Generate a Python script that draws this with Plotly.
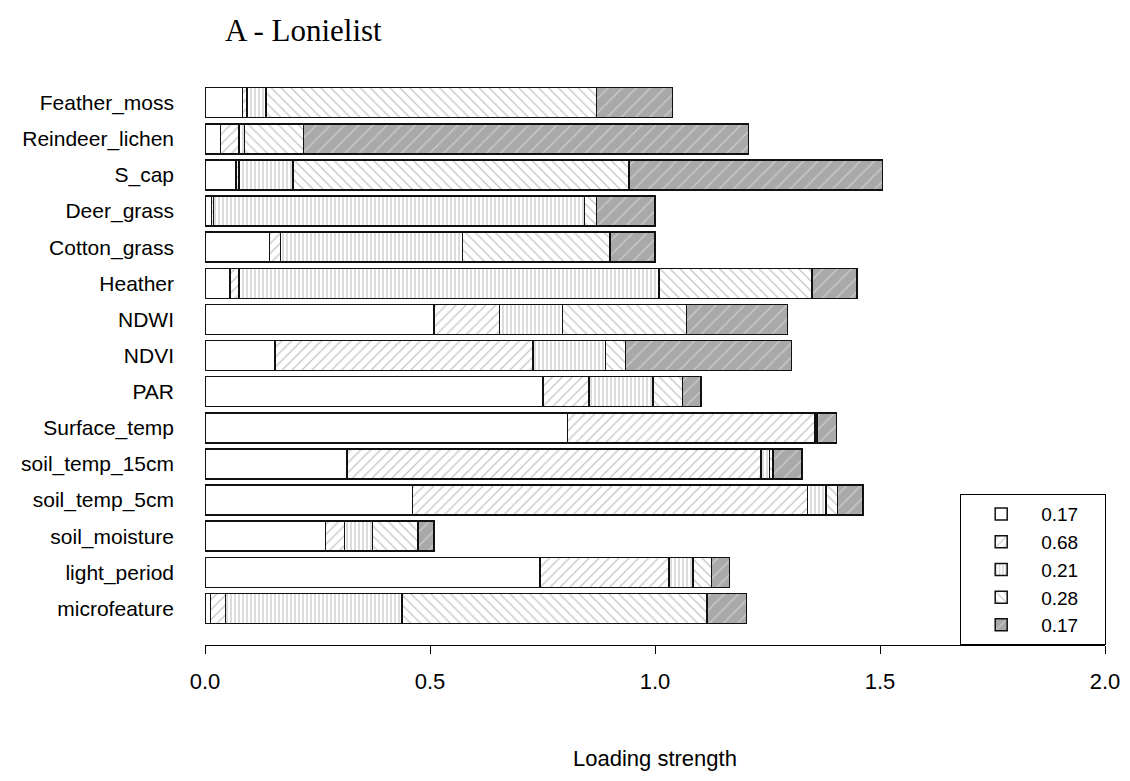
import plotly.graph_objects as go

# ---- data ----
categories = ["Feather_moss", "Reindeer_lichen", "S_cap", "Deer_grass", "Cotton_grass",
              "Heather", "NDWI", "NDVI", "PAR", "Surface_temp", "soil_temp_15cm",
              "soil_temp_5cm", "soil_moisture", "light_period", "microfeature"]

comp1 = [0.083, 0.034, 0.069, 0.014, 0.143, 0.055, 0.509, 0.156, 0.751, 0.805, 0.315, 0.461, 0.268, 0.744, 0.012]
comp2 = [0.010, 0.042, 0.007, 0.005, 0.025, 0.021, 0.145, 0.573, 0.102, 0.551, 0.921, 0.878, 0.042, 0.287, 0.034]
comp3 = [0.042, 0.012, 0.120, 0.824, 0.404, 0.933, 0.140, 0.161, 0.143, 0.003, 0.018, 0.041, 0.062, 0.053, 0.392]
comp4 = [0.735, 0.131, 0.746, 0.027, 0.328, 0.340, 0.276, 0.044, 0.065, 0.002, 0.008, 0.026, 0.101, 0.042, 0.677]
comp5 = [0.169, 0.989, 0.563, 0.130, 0.100, 0.100, 0.224, 0.369, 0.041, 0.042, 0.065, 0.056, 0.036, 0.039, 0.088]

legend_labels = ["0.17", "0.68", "0.21", "0.28", "0.17"]
x_tick_vals = [0.0, 0.5, 1.0, 1.5, 2.0]
x_tick_text = ["0.0", "0.5", "1.0", "1.5", "2.0"]
title_text = "A - Lonielist"
x_title = "Loading strength"

series = [comp1, comp2, comp3, comp4, comp5]

# ---- styles ----
styles = [
    dict(bg="white", fg="#888888", shape="", size=8, solidity=0.2),
    dict(bg="white", fg="#8a8a8a", shape="/", size=7, solidity=0.18),
    dict(bg="white", fg="#8a8a8a", shape="|", size=4, solidity=0.3),
    dict(bg="white", fg="#8a8a8a", shape="\\", size=7, solidity=0.18),
    dict(bg="#a9a9a9", fg="#f2f2f2", shape="/", size=10, solidity=0.12),
]

# page body has an 8px margin: figure is drawn at (8, 8)
W, H = 1114, 765
PLOT_L, PLOT_R, PLOT_T, PLOT_B = 205, 1105, 81, 645  # page pixels
m_l = PLOT_L - 8
m_r = W - (PLOT_R - 8)
m_t = PLOT_T - 8
m_b = H - (PLOT_B - 8)
plot_h = PLOT_B - PLOT_T


def py(page_y):
    return (PLOT_B - page_y) / plot_h


def px(page_x):
    return (page_x - PLOT_L) / (PLOT_R - PLOT_L)


LEGEND_PAD = "&nbsp;" * 4  # widens the legend box like the reference

fig = go.Figure()
for vals, name, st in zip(series, legend_labels, styles):
    fig.add_trace(go.Bar(
        y=categories, x=vals, orientation="h", name=name + LEGEND_PAD,
        marker=dict(
            color=st["bg"],
            line=dict(color="#111111", width=1.5),
            pattern=dict(shape=st["shape"], fgcolor=st["fg"], bgcolor=st["bg"],
                         size=st["size"], solidity=st["solidity"], fillmode="overlay"),
        ),
        hoverinfo="x+y",
    ))

fig.update_layout(
    barmode="stack",
    bargap=0.17,
    width=W, height=H,
    margin=dict(l=m_l, r=m_r, t=m_t, b=m_b, autoexpand=False),
    paper_bgcolor="white", plot_bgcolor="white",
    font=dict(family="Liberation Sans, Arial, sans-serif", color="black"),
    showlegend=True,
    legend=dict(
        x=px(960), xanchor="left", y=0, yanchor="bottom",
        bordercolor="black", borderwidth=1.2, bgcolor="white",
        font=dict(size=19, color="black"),
        itemwidth=70, tracegroupgap=0,
        traceorder="normal",
    ),
    xaxis=dict(
        range=[0, 2], tickvals=x_tick_vals, ticktext=x_tick_text,
        showline=True, linecolor="black", linewidth=1.2,
        ticks="outside", ticklen=8, tickcolor="black", tickwidth=1.2,
        showgrid=False, zeroline=False,
        tickfont=dict(size=22, color="black"),
        ticklabelstandoff=8,
        fixedrange=True,
    ),
    yaxis=dict(
        categoryorder="array", categoryarray=list(reversed(categories)),
        range=[-1.012, 14.6],
        showline=False, showgrid=False, zeroline=False, ticks="",
        tickfont=dict(size=21, color="black"),
        ticklabelstandoff=30,
        fixedrange=True,
    ),
    annotations=[
        dict(text=title_text, xref="paper", yref="paper", x=px(223), y=py(31),
             xanchor="left", yanchor="middle", showarrow=False,
             font=dict(family="Liberation Serif, Times New Roman, serif", size=31, color="black")),
        dict(text=x_title, xref="paper", yref="paper", x=0.5, y=py(758),
             xanchor="center", yanchor="middle", showarrow=False,
             font=dict(size=22, color="black")),
    ],
)

fig.write_html("out.html")
